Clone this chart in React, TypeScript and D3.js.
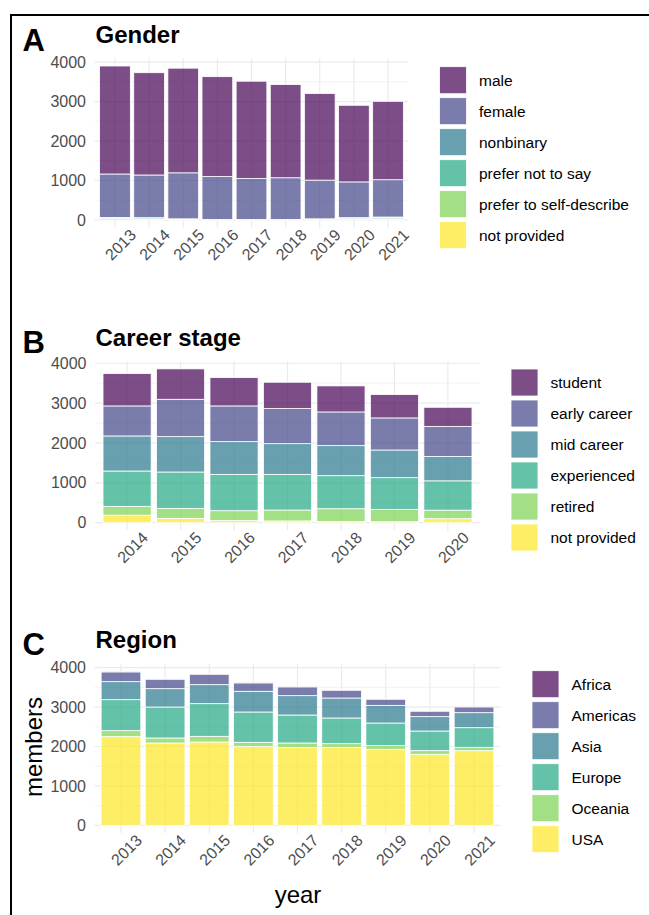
import React, { useEffect, useRef } from 'react';
import * as d3 from 'd3';

const FONT = '"Liberation Sans", Arial, Helvetica, sans-serif';
const VIRIDIS = ['#440154', '#414487', '#2A788E', '#22A884', '#7AD151', '#FDE725'];

// A: gender
const genderYears = ['2013', '2014', '2015', '2016', '2017', '2018', '2019', '2020', '2021'];
const genderKeys = ['male', 'female', 'nonbinary', 'prefer not to say', 'prefer to self-describe', 'not provided'];
const male = [2735, 2590, 2650, 2530, 2465, 2360, 2195, 1940, 1985];
const female = [1100, 1080, 1165, 1085, 1035, 1055, 980, 905, 945];
const nonbinary = [5, 5, 5, 5, 5, 5, 10, 15, 20];
const preferNot = [20, 30, 15, 5, 5, 5, 10, 25, 30];
const selfDescribe = [5, 5, 5, 3, 3, 3, 5, 10, 10];
const genderNotProvided = [35, 20, 5, 2, 2, 2, 5, 10, 15];

// B: career stage
const careerYears = ['2014', '2015', '2016', '2017', '2018', '2019', '2020'];
const careerKeys = ['student', 'early career', 'mid career', 'experienced', 'retired', 'not provided'];
const student = [812, 762, 711, 661, 653, 585, 480];
const earlyCareer = [753, 937, 896, 879, 845, 804, 753];
const midCareer = [879, 887, 820, 770, 753, 694, 612];
const experienced = [887, 912, 912, 895, 829, 795, 735];
const retired = [220, 250, 246, 273, 321, 310, 215];
const careerNotProvided = [190, 110, 55, 45, 30, 25, 100];

// C: region
const regionYears = ['2013', '2014', '2015', '2016', '2017', '2018', '2019', '2020', '2021'];
const regionKeys = ['Africa', 'Americas', 'Asia', 'Europe', 'Oceania', 'USA'];
const africa = [5, 5, 5, 5, 5, 5, 5, 5, 5];
const americas = [248, 240, 265, 214, 223, 198, 156, 139, 147];
const asia = [457, 465, 482, 525, 491, 507, 448, 364, 381];
const europe = [786, 786, 829, 769, 710, 651, 575, 499, 497];
const oceania = [153, 127, 144, 110, 110, 93, 93, 92, 86];
const usa = [2249, 2089, 2114, 1996, 1979, 1979, 1928, 1802, 1894];

const yTicks = [0, 1000, 2000, 3000, 4000];
const yMinor = [500, 1500, 2500, 3500];

const toRows = (years, keys, series) =>
    years.map((year, i) => {
        const row = { year };
        keys.forEach((k, j) => { row[k] = series[j][i]; });
        return row;
    });

const panels = [
    {
        letter: 'A', letterY: 50.7, title: 'Gender', titleY: 43.3,
        years: genderYears, keys: genderKeys,
        rows: toRows(genderYears, genderKeys, [male, female, nonbinary, preferNot, selfDescribe, genderNotProvided]),
        left: 94.5, right: 408.5, top: 58.3, bottom: 227.7,
        legendX: 439.5, legendY: 66.7,
    },
    {
        letter: 'B', letterY: 353.3, title: 'Career stage', titleY: 345.7,
        years: careerYears, keys: careerKeys,
        rows: toRows(careerYears, careerKeys, [student, earlyCareer, midCareer, experienced, retired, careerNotProvided]),
        left: 95, right: 480, top: 361.2, bottom: 530.4,
        legendX: 511, legendY: 369,
    },
    {
        letter: 'C', letterY: 655, title: 'Region', titleY: 648,
        years: regionYears, keys: regionKeys,
        rows: toRows(regionYears, regionKeys, [africa, americas, asia, europe, oceania, usa]),
        left: 94.5, right: 500.5, top: 664, bottom: 833,
        legendX: 532, legendY: 670.7,
    },
];

const drawPanel = (svg, p) => {
    const g = svg.append('g');

    const x = d3.scaleBand()
        .domain(p.years)
        .range([p.left, p.right])
        .paddingInner(0.1)
        .paddingOuter(0.15);

    // ggplot stacks the first level on top
    const stacked = d3.stack().keys([...p.keys].reverse())(p.rows);
    const max = d3.max(p.rows, d => d3.sum(p.keys, k => d[k]));
    const y = d3.scaleLinear()
        .domain([-0.05 * max, 1.05 * max])
        .range([p.bottom, p.top]);

    const color = d3.scaleOrdinal().domain(p.keys).range(VIRIDIS);

    // grid
    g.selectAll('.minor').data(yMinor).enter().append('line')
        .attr('x1', p.left).attr('x2', p.right)
        .attr('y1', d => y(d)).attr('y2', d => y(d))
        .attr('stroke', '#ebebeb').attr('stroke-width', 0.6);
    g.selectAll('.major').data(yTicks).enter().append('line')
        .attr('x1', p.left).attr('x2', p.right)
        .attr('y1', d => y(d)).attr('y2', d => y(d))
        .attr('stroke', '#ebebeb').attr('stroke-width', 1.2);
    g.selectAll('.vgrid').data(p.years).enter().append('line')
        .attr('x1', d => x(d) + x.bandwidth() / 2).attr('x2', d => x(d) + x.bandwidth() / 2)
        .attr('y1', p.top).attr('y2', p.bottom)
        .attr('stroke', '#ebebeb').attr('stroke-width', 1.2);

    // bars
    stacked.forEach(layer => {
        g.append('g').selectAll('rect').data(layer).enter().append('rect')
            .attr('x', d => x(d.data.year))
            .attr('width', x.bandwidth())
            .attr('y', d => y(d[1]))
            .attr('height', d => y(d[0]) - y(d[1]))
            .attr('fill', color(layer.key))
            .attr('fill-opacity', 0.7)
            .attr('stroke', '#ffffff')
            .attr('stroke-width', 0.8);
    });

    // y labels
    g.selectAll('.ylab').data(yTicks).enter().append('text')
        .attr('x', p.left - 8.5)
        .attr('y', d => y(d))
        .attr('dy', '0.35em')
        .attr('text-anchor', 'end')
        .attr('font-size', 16)
        .attr('fill', '#4d4d4d')
        .text(d => d);

    // x labels, rotated
    g.selectAll('.xlab').data(p.years).enter().append('text')
        .attr('transform', d => `translate(${x(d) + x.bandwidth() / 2 + 5.5},${p.bottom + 17}) rotate(-45)`)
        .attr('dy', '0.35em')
        .attr('text-anchor', 'middle')
        .attr('font-size', 16)
        .attr('fill', '#4d4d4d')
        .text(d => d);

    // titles
    g.append('text').attr('x', 22.5).attr('y', p.letterY)
        .attr('font-size', 31).attr('font-weight', 'bold').attr('fill', '#000')
        .text(p.letter);
    g.append('text').attr('x', 95.5).attr('y', p.titleY)
        .attr('font-size', 24).attr('font-weight', 'bold').attr('fill', '#000')
        .text(p.title);

    // legend
    p.keys.forEach((k, i) => {
        g.append('rect')
            .attr('x', p.legendX).attr('y', p.legendY + i * 31)
            .attr('width', 27).attr('height', 27)
            .attr('fill', color(k)).attr('fill-opacity', 0.7)
            .attr('stroke', '#ffffff').attr('stroke-width', 0.8);
        g.append('text')
            .attr('x', p.legendX + 39.5).attr('y', p.legendY + i * 31 + 13.5)
            .attr('dy', '0.35em')
            .attr('font-size', 15.5).attr('fill', '#000')
            .text(k);
    });
};

function App() {
    const ref = useRef(null);

    useEffect(() => {
        const svg = d3.select(ref.current);
        svg.selectAll('*').remove();

        // outer frame (cropped on right and bottom)
        svg.append('rect')
            .attr('x', 11).attr('y', 15).attr('width', 700).attr('height', 1000)
            .attr('fill', 'none').attr('stroke', '#000').attr('stroke-width', 2);

        panels.forEach(p => drawPanel(svg, p));

        svg.append('text')
            .attr('transform', 'translate(42,747) rotate(-90)')
            .attr('text-anchor', 'middle')
            .attr('font-size', 24).attr('fill', '#000')
            .text('members');
        svg.append('text')
            .attr('x', 298).attr('y', 902.5)
            .attr('text-anchor', 'middle')
            .attr('font-size', 24).attr('fill', '#000')
            .text('year');
    }, []);

    return (
        <svg
            ref={ref}
            width={649}
            height={915}
            style={{ position: 'absolute', left: 0, top: 0, background: '#fff', fontFamily: FONT }}
        />
    );
}

export default App;
